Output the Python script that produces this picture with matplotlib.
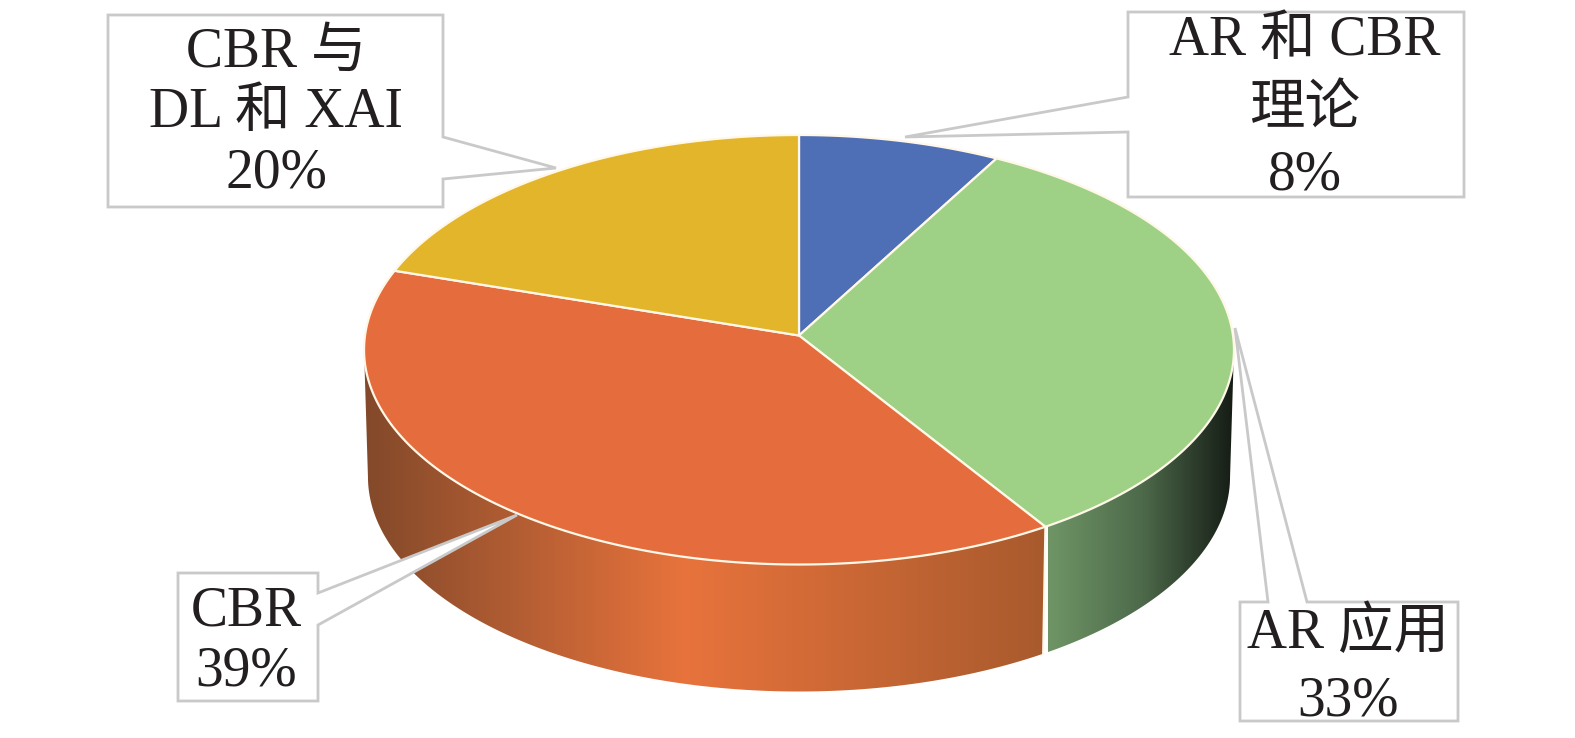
#!/usr/bin/env python3
"""Perspective 3D-style pie with callout labels, drawn in pixel coordinates."""
import numpy as np
import matplotlib
matplotlib.use('Agg')
import matplotlib.pyplot as plt
from matplotlib.colors import LinearSegmentedColormap
from matplotlib.patches import Polygon

values = [8, 33, 39, 20]
colors = ['#4e6eb6', '#9ed186', '#e56c3c', '#e2b52a']
label_lines = [['AR 和 CBR', '理论', '8%'],
               ['AR 应用', '33%'],
               ['CBR', '39%'],
               ['CBR 与', 'DL 和 XAI', '20%']]

FONT = ['Liberation Serif', 'Noto Sans CJK SC', 'DejaVu Sans']
W, H = 1575, 738
CX, CY, RX, RY, PERSP, DEPTH = 799, 335.5, 434, 213.8, 0.0664, 127
BOTTOM_SCALE = 0.991  # lower rim is a little narrower
LINE = '#c9c9c9'
EDGE = '#fff8e8'


def project(theta_deg):
    t = np.radians(theta_deg)
    u, v = np.sin(t), -np.cos(t)
    d = 1 - PERSP * v
    return CX + RX * u / d, CY + RY * v / d


def arc(a, b, n=200):
    x, y = project(np.linspace(a, b, n))
    return np.column_stack([x, y])


def drop(pts):
    return np.column_stack([CX + (pts[:, 0] - CX) * BOTTOM_SCALE, pts[:, 1] + DEPTH])


fig = plt.figure(figsize=(W / 100, H / 100), dpi=100)
ax = fig.add_axes([0, 0, 1, 1])

edges = np.cumsum([0] + values) / sum(values) * 360

# the wall is only visible between the two points where the rim turns back
sweep = np.linspace(0, 360, 3601)
rim_x = project(sweep)[0]
theta_right, theta_left = sweep[np.argmax(rim_x)], sweep[np.argmin(rim_x)]

# side walls, only orange and green can be seen
side_ramps = {
    1: ('#6f9566', '#4d6a4a', '#141a14', 1048, 1236),
    2: ('#82492a', '#e8733c', '#a85a2d', 363, 1048),
}
for i, (c0, c1, c2, x0, x1) in side_ramps.items():
    top = arc(max(edges[i], theta_right), min(edges[i + 1], theta_left))
    poly = Polygon(np.vstack([top, drop(top)[::-1]]), closed=True, fc='none', ec='none')
    ax.add_patch(poly)
    stops = [(0, c0), (0.47 if i == 2 else 0.5, c1), (1, c2)]
    cmap = LinearSegmentedColormap.from_list(f'side{i}', stops)
    im = ax.imshow(np.linspace(0, 1, 512)[None, :], cmap=cmap, aspect='auto',
                   extent=(x0, x1, H, 0), zorder=1)
    im.set_clip_path(poly)

# wall seam at the green/orange edge
seam = arc(edges[2], edges[2], 1)
seam_low = drop(seam)
ax.plot([seam[0, 0], seam_low[0, 0]], [seam[0, 1], seam_low[0, 1]], color=EDGE, lw=1.5, zorder=2)

# top face
for i, c in enumerate(colors):
    pts = np.vstack([[CX, CY], arc(edges[i], edges[i + 1])])
    ax.add_patch(Polygon(pts, closed=True, fc=c, ec=EDGE, lw=1.6, zorder=3,
                         joinstyle='round'))


def callout(box, notch, tip, side):
    x0, y0, x1, y1 = box
    if side == 'right':
        pts = [(x0, y0), (x1, y0), (x1, notch[0]), tip, (x1, notch[1]), (x1, y1), (x0, y1)]
    elif side == 'left':
        pts = [(x0, y0), (x1, y0), (x1, y1), (x0, y1), (x0, notch[1]), tip, (x0, notch[0])]
    else:
        pts = [(x0, y0), (notch[0], y0), tip, (notch[1], y0), (x1, y0), (x1, y1), (x0, y1)]
    ax.add_patch(Polygon(pts, closed=True, fc='white', ec=LINE, lw=2, zorder=4))


callout((1128, 12, 1464, 197), (97, 132), (905, 137), 'left')
callout((1240, 602, 1458, 721), (1268, 1307), (1235, 328), 'top')
callout((178, 573, 318, 701), (593, 625), (517, 515), 'right')
callout((108, 15, 443, 207), (137, 179), (556, 168), 'right')

anchors = [(1305, [55, 125, 190]), (1348, [648, 715]), (246, [626, 686]),
           (276, [67, 127, 187])]
for lines, (x, baselines) in zip(label_lines, anchors):
    for s, y in zip(lines, baselines):
        ax.text(x, y, s, ha='center', va='baseline', fontsize=40, family=FONT,
                color='#231f20', zorder=5)

ax.set_xlim(0, W)
ax.set_ylim(H, 0)
ax.axis('off')
fig.savefig('out.png', dpi=100)
